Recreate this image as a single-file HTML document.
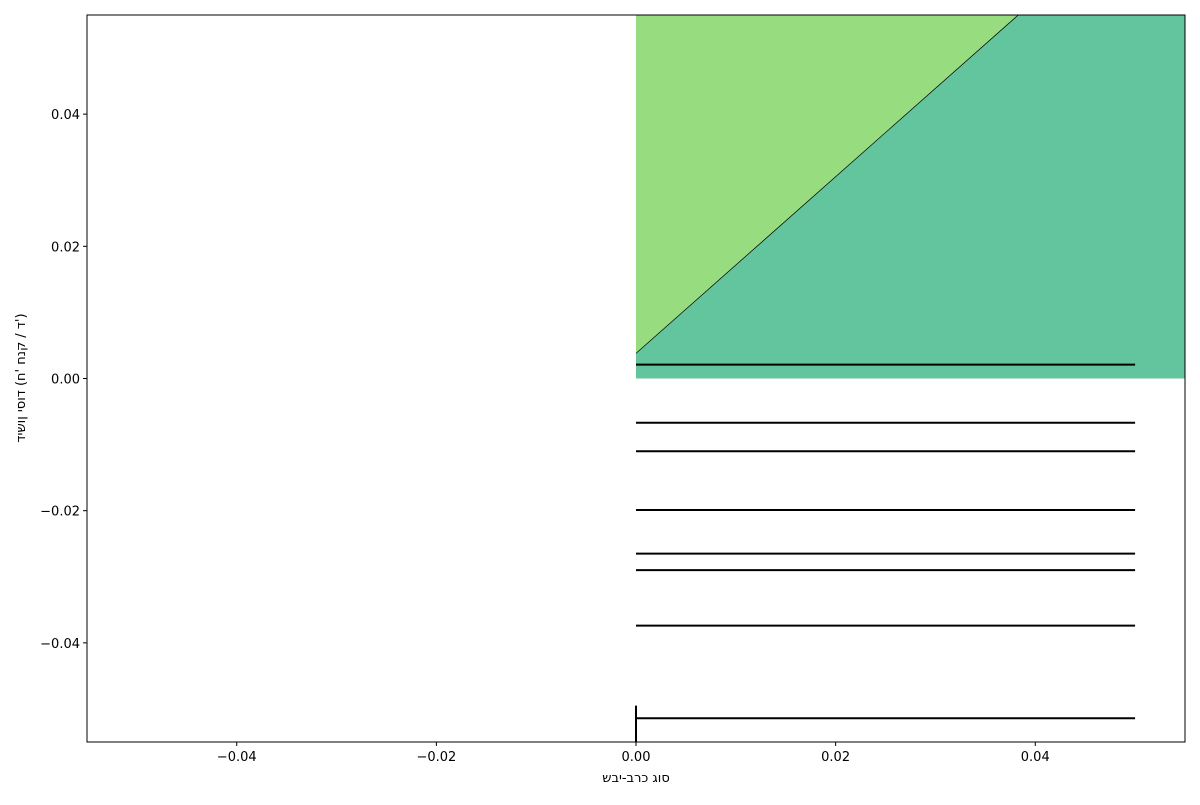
<!DOCTYPE html>
<html><head><meta charset="utf-8"><style>
body{margin:0;background:#fff;}
svg text{font-family:"DejaVu Sans","Liberation Sans",sans-serif;font-size:13px;fill:#000;}
.ovr{direction:ltr;unicode-bidi:bidi-override;}
</style></head><body>
<svg width="1200" height="800" id="chart">
<g id="plot"></g>
<g id="axes"></g>
<text x="636" y="782" text-anchor="middle" class="ovr" style="direction:ltr;unicode-bidi:bidi-override">שבי-ברכ גוס</text>
<text transform="translate(25,378) rotate(-90)" text-anchor="middle" class="ovr" style="direction:ltr;unicode-bidi:bidi-override">דישון יסוד (ח' חנק / ד')</text>
</svg>
<script>
const xDomain=[-0.055,0.055];
const yDomain=[-0.055,0.055];
const xTicks=[-0.04,-0.02,0.00,0.02,0.04];
const yTicks=[-0.04,-0.02,0.00,0.02,0.04];
const hLineValues=[0.0021,-0.0067,-0.011,-0.0199,-0.0265,-0.029,-0.0374,-0.0514];
const hLineStart=[0];
const hLineEnd=[0.05];
const boundaryStart=[0,0.0038];
const boundaryEnd=[0.0383,0.055];
const L=87,R=1185,T=15,B=742;
const xs=v=>L+(v-xDomain[0])/(xDomain[1]-xDomain[0])*(R-L);
const ys=v=>B-(v-yDomain[0])/(yDomain[1]-yDomain[0])*(B-T);
const NS='http://www.w3.org/2000/svg';
const plot=document.getElementById('plot'),axes=document.getElementById('axes');
function mk(p,tag,attrs){const e=document.createElementNS(NS,tag);for(const k in attrs)e.setAttribute(k,attrs[k]);p.appendChild(e);return e;}
let e=mk(plot,'rect',{x:xs(0),y:T,width:R-xs(0),height:ys(0)-T,fill:'#62c59e'});


const p1=[xs(boundaryStart[0]),ys(boundaryStart[1])],p2=[xs(boundaryEnd[0]),ys(boundaryEnd[1])];
e=mk(plot,'polygon',{points:`${p1[0]},${p1[1]} ${p2[0]},${p2[1]} ${xs(0)},${T}`,fill:'#98dc80'});


e=mk(plot,'line',{x1:p1[0],y1:p1[1],x2:p2[0],y2:p2[1],stroke:'#000','stroke-width':0.7});


hLineValues.forEach((v,i)=>{
 const l=mk(plot,'line',{x1:xs(hLineStart[0]),x2:xs(hLineEnd[0]),y1:ys(v),y2:ys(v),stroke:'#000','stroke-width':2});
 
 
});
e=mk(plot,'line',{x1:xs(0),x2:xs(0),y1:ys(-0.0495),y2:B,stroke:'#000','stroke-width':2});


e=mk(axes,'rect',{x:L,y:T,width:R-L,height:B-T,fill:'none',stroke:'#000','stroke-width':1});


const fmt=v=>(v<0?'\u22120.0':'0.0')+Math.round(Math.abs(v)*100);
xTicks.forEach(v=>{
 const x=xs(v);
 const t=mk(axes,'line',{x1:x,x2:x,y1:B,y2:B+4,stroke:'#000'});
 
 
 const s=mk(axes,'text',{x:x,y:B+19,'text-anchor':'middle'});s.textContent=fmt(v);
 
 
});
yTicks.forEach(v=>{
 const y=ys(v);
 const t=mk(axes,'line',{x1:L-4,x2:L,y1:y,y2:y,stroke:'#000'});
 
 
 const s=mk(axes,'text',{x:L-7,y:y+5,'text-anchor':'end'});s.textContent=fmt(v);
 
 
});
</script>
</body></html>
